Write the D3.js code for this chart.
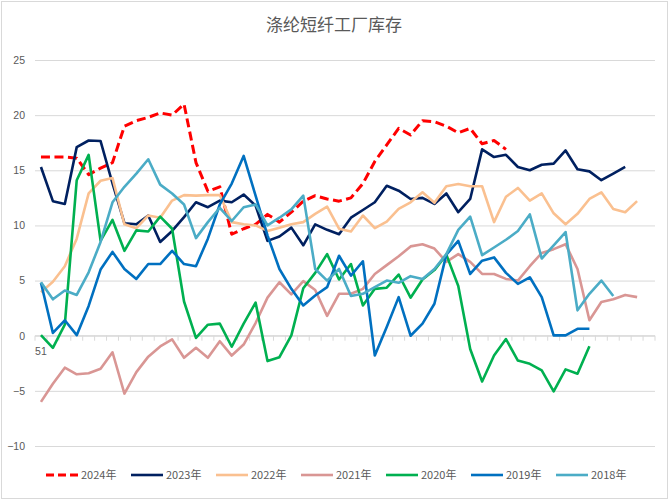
<!DOCTYPE html>
<html>
<head>
<meta charset="utf-8">
<script src="https://cdn.jsdelivr.net/npm/d3@7/dist/d3.min.js"></script>
<style>
  body { margin: 0; background: #fff; }
  svg { display: block; }
</style>
</head>
<body>
<svg id="chart" width="670" height="500"></svg>
<script>
// ---- data ----
const title = "涤纶短纤工厂库存";
const categories = d3.range(1, 53); // weeks 1..52
const xTickLabels = ["51"];          // only label visible on the category axis (first slot)
const yTicks = [25, 20, 15, 10, 5, 0, -5, -10];

const seriesNames = ["2024年", "2023年", "2022年", "2021年", "2020年", "2019年", "2018年"];
const seriesColors = ["#ff0000", "#002060", "#fac090", "#d99694", "#00b050", "#0070c0", "#4bacc6"];

const v2024 = [16.2,16.2,16.2,16.1,14.6,15.2,15.7,19.0,19.5,19.8,20.2,20.0,21.0,15.7,13.1,13.5,9.2,9.7,10.1,11.0,10.3,11.2,12.2,12.7,12.4,12.2,12.5,13.8,15.8,17.3,18.8,18.2,19.5,19.4,19.0,18.4,18.8,17.4,17.7,16.9];
const v2023 = [15.3,12.2,11.95,17.1,17.7,17.65,13.8,10.2,10.1,10.9,8.5,9.5,10.75,12.1,11.65,12.25,12.1,12.8,11.8,8.6,9.0,9.8,8.2,10.1,9.6,9.2,10.7,11.4,12.1,13.6,13.15,12.4,12.5,11.95,12.9,11.2,12.4,16.9,16.2,16.4,15.3,15.0,15.5,15.6,16.8,15.1,14.9,14.1,14.7,15.3];
const v2022 = [3.95,4.9,6.3,8.8,12.9,14.05,14.3,10.1,9.75,10.9,10.7,12.25,12.75,12.7,12.75,12.75,10.3,10.1,10.0,9.5,9.8,10.1,10.3,11.05,11.7,9.7,9.45,10.9,9.75,10.35,11.5,12.1,13.0,12.05,13.55,13.75,13.55,13.55,10.3,12.6,13.4,12.25,12.9,11.1,10.1,11.05,12.4,13.0,11.5,11.2,12.2];
const v2021 = [-6.0,-4.35,-2.9,-3.5,-3.4,-3.0,-1.5,-5.25,-3.3,-1.9,-0.97,-0.33,-2.0,-1.1,-2.0,-0.5,-1.8,-0.8,1.15,3.45,4.85,3.75,4.95,4.15,1.8,3.8,3.8,4.25,5.6,6.4,7.2,8.1,8.3,7.9,6.7,7.4,6.7,5.6,5.6,5.15,5.0,6.3,7.5,7.85,8.3,6.05,1.4,3.05,3.3,3.7,3.5];
const v2020 = [0.05,-1.1,1.0,14.1,16.4,8.6,10.5,7.7,9.55,9.45,10.8,9.7,3.1,-0.2,1.0,1.1,-1.0,1.1,3.0,-2.3,-1.95,0.03,4.3,5.7,7.4,5.1,6.5,2.75,4.25,4.35,5.55,3.45,5.1,5.95,7.35,4.5,-1.2,-4.15,-1.8,-0.3,-2.25,-2.55,-3.15,-5.05,-3.05,-3.45,-0.95];
const v2019 = [4.8,0.25,1.4,0.05,2.7,6.0,7.6,6.05,5.15,6.5,6.5,7.7,6.5,6.3,8.8,11.9,13.8,16.3,12.7,9.1,6.05,4.25,2.75,3.65,4.4,7.25,5.45,6.75,-1.8,0.8,3.5,0.0,1.1,2.9,7.35,8.6,5.6,6.8,7.1,5.7,4.7,5.3,3.5,0.03,0.03,0.63,0.63];
const v2018 = [4.85,3.3,4.1,3.7,5.75,8.5,12.1,13.5,14.7,16.0,13.7,12.9,11.9,8.85,10.3,11.6,10.4,11.65,11.9,10.0,10.7,11.45,12.7,6.05,5.0,6.05,3.6,3.8,4.4,5.0,4.8,5.4,5.15,6.05,7.4,9.6,10.8,7.3,8.0,8.7,9.5,11.0,7.0,8.2,9.4,2.3,3.8,5.0,3.6];

const seriesValues = [v2024, v2023, v2022, v2021, v2020, v2019, v2018];

// ---- drawing ----
const svg = d3.select("#chart");
const W = 670, H = 500;
const plot = { left: 35, right: 655, top: 60, bottom: 446 };
const fontAxis = "'Liberation Sans', Arial, sans-serif";
const textColor = "#595959";

// chart frame
svg.append("rect")
  .attr("x", 1.5).attr("y", 1.5).attr("width", W - 4).attr("height", H - 3)
  .attr("fill", "#fff").attr("stroke", "#d9d9d9").attr("stroke-width", 1);

const x = d3.scaleBand().domain(categories).range([plot.left, plot.right]).padding(0);
const y = d3.scaleLinear().domain([-10, 25]).range([plot.bottom, plot.top]);

// title
svg.append("text")
  .attr("x", 334).attr("y", 31)
  .attr("text-anchor", "middle")
  .attr("font-family", "'Noto Sans CJK SC', sans-serif")
  .attr("font-size", 17)
  .attr("fill", textColor)
  .text(title);

// y gridlines + labels
const yAxis = d3.axisLeft(y).tickValues(yTicks).tickSize(-(plot.right - plot.left)).tickPadding(10).tickFormat(d3.format("d"));
const gy = svg.append("g").attr("transform", `translate(${plot.left},0)`).call(yAxis);
gy.select(".domain").remove();
gy.selectAll(".tick line").attr("stroke", "#d9d9d9").attr("stroke-width", 1);
gy.selectAll(".tick text")
  .attr("font-family", fontAxis).attr("font-size", 10.5).attr("fill", textColor)
  .attr("x", -10);

// category axis at zero with tick marks at band boundaries
const boundaries = categories.map(c => x(c)).concat([plot.right]);
const gx = svg.append("g");
gx.append("line")
  .attr("x1", plot.left).attr("x2", plot.right)
  .attr("y1", y(0)).attr("y2", y(0))
  .attr("stroke", "#d9d9d9").attr("stroke-width", 1);
gx.selectAll("line.tk").data(boundaries).join("line")
  .attr("class", "tk")
  .attr("x1", d => d).attr("x2", d => d)
  .attr("y1", y(0)).attr("y2", y(0) + 5)
  .attr("stroke", "#d9d9d9").attr("stroke-width", 1);
gx.selectAll("text.xl").data(xTickLabels).join("text")
  .attr("class", "xl")
  .attr("x", (d, i) => x(categories[i]) + x.bandwidth() / 2)
  .attr("y", y(0) + 19)
  .attr("text-anchor", "middle")
  .attr("font-family", fontAxis).attr("font-size", 10.5).attr("fill", textColor)
  .text(d => d);

// lines
const line = d3.line()
  .x((d, i) => x(categories[i]) + x.bandwidth() / 2)
  .y(d => y(d));

seriesValues.forEach((vals, k) => {
  svg.append("path")
    .datum(vals)
    .attr("d", line)
    .attr("fill", "none")
    .attr("stroke", seriesColors[k])
    .attr("stroke-width", k === 0 ? 3 : 2.6)
    .attr("stroke-linejoin", "round")
    .attr("stroke-dasharray", k === 0 ? "9,4.5" : null);
});

// legend
const lg = svg.append("g");
seriesNames.forEach((name, k) => {
  const x0 = 46 + 85 * k;
  lg.append("line")
    .attr("x1", x0).attr("x2", x0 + 32)
    .attr("y1", 475).attr("y2", 475)
    .attr("stroke", seriesColors[k])
    .attr("stroke-width", k === 0 ? 3 : 2.6)
    .attr("stroke-dasharray", k === 0 ? "8,4" : null);
  lg.append("text")
    .attr("x", x0 + 35).attr("y", 479)
    .attr("font-family", "'Noto Sans CJK SC', sans-serif")
    .attr("font-size", 11)
    .attr("fill", textColor)
    .text(name);
});
</script>
</body>
</html>
